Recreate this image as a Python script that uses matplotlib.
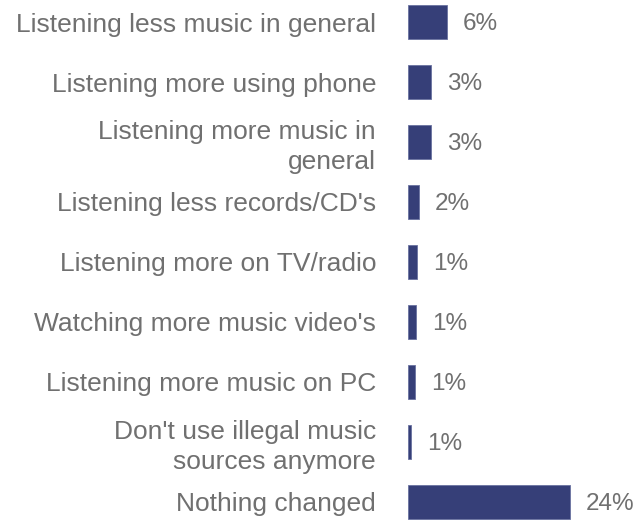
import matplotlib.pyplot as plt

# Changes in music listening habits
categories = [
    "Listening less music in general",
    "Listening more using phone",
    "Listening more music in\ngeneral",
    "Listening less records/CD's",
    "Listening more on TV/radio",
    "Watching more music video's",
    "Listening more music on PC",
    "Don't use illegal music\nsources anymore",
    "Nothing changed",
]
shares = [5.7, 3.4, 3.4, 1.6, 1.4, 1.2, 1.0, 0.5, 24.0]

plt.rcParams['font.family'] = ['Liberation Sans', 'DejaVu Sans']
text_color = '#707070'
bar_color = '#363F78'

fig = plt.figure(figsize=(6.38, 5.2), dpi=100)
ax = fig.add_axes([408 / 638, 0, 230 / 638, 1])

y = list(range(len(categories)))
ax.barh(y, shares, height=0.57, color=bar_color, edgecolor='#6a72a0', linewidth=0.6)

for yi, v in zip(y, shares):
    ax.text(v + 2.35, yi + 0.03, f"{int(v + 0.5)}%", va='center', ha='left',
            fontsize=17.5, color=text_color)

ax.set_yticks(y)
ax.set_yticklabels(categories, fontsize=19, color=text_color, linespacing=1.3,
                   ha='right', multialignment='right')
ax.tick_params(axis='y', length=0, pad=23)
ax.set_xticks([])
ax.set_xlim(0, 230 / 6.76)
ax.set_ylim(8 + 18 / 60, -22 / 60)
for s in ax.spines.values():
    s.set_visible(False)

fig.savefig('out.png', dpi=100)
